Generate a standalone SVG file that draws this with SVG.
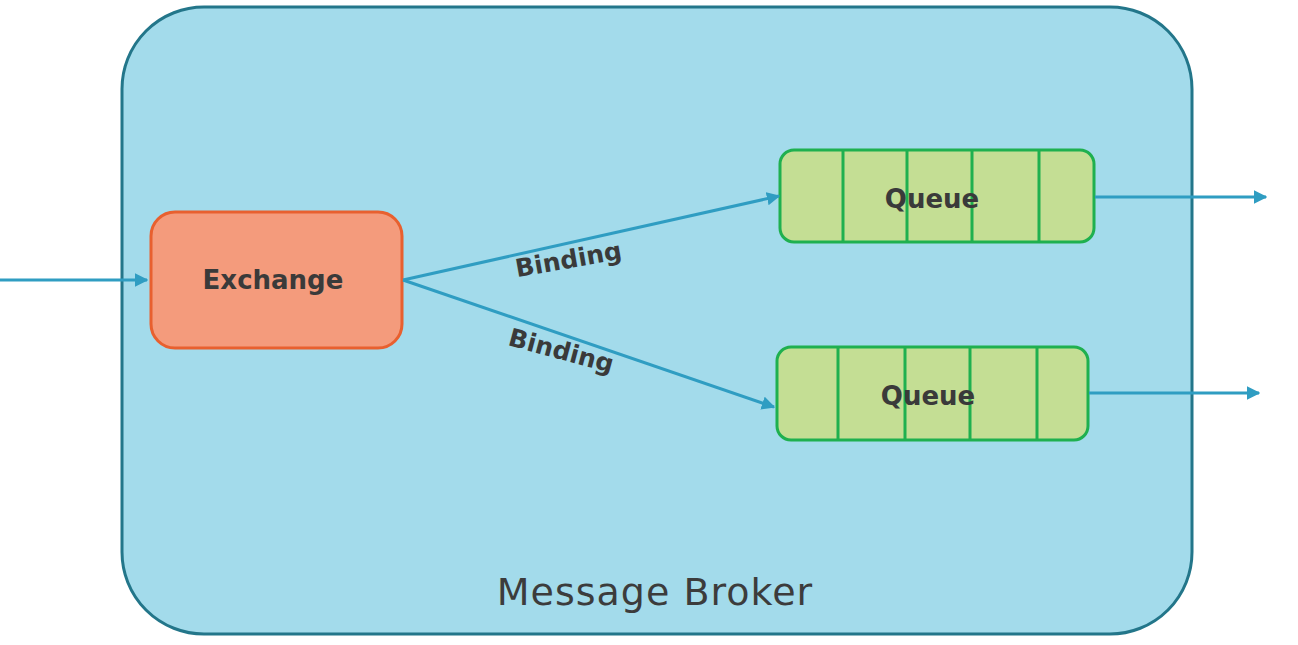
<svg xmlns="http://www.w3.org/2000/svg" width="1298" height="645" viewBox="0 0 1298 645">
  <defs>
    <marker id="arrow" viewBox="0 0 10 10" refX="9" refY="5" markerWidth="4.5" markerHeight="4.5" orient="auto" markerUnits="strokeWidth">
      <path d="M0,0 L10,5 L0,10 z" fill="#2f9dc2"/>
    </marker>
    <style>
      .label { font-family: "DejaVu Sans", "Liberation Sans", sans-serif; font-weight: 700; fill: #3a3a3a; }
      .queue { fill: #c4de94; stroke: #1fb04f; stroke-width: 3; }
      .divider { stroke: #1fb04f; stroke-width: 3; }
      .edge { stroke: #2f9dc2; stroke-width: 3; fill: none; marker-end: url(#arrow); }
    </style>
  </defs>
  <rect width="1298" height="645" fill="#ffffff"/>

  <!-- broker container -->
  <g id="broker">
    <rect x="122" y="7" width="1070" height="627" rx="82" ry="82" fill="#a3dbeb" stroke="#23768a" stroke-width="3"/>
    <text x="655" y="605" text-anchor="middle" font-family="'DejaVu Sans', sans-serif" font-size="38" letter-spacing="1" fill="#3c3c3c">Message Broker</text>
  </g>

  <g id="exchange">
    <rect x="151" y="212" width="251" height="136" rx="24" ry="24" fill="#f49b7c" stroke="#e8602f" stroke-width="3"/>
    <text class="label" x="273" y="289" text-anchor="middle" font-size="26">Exchange</text>
  </g>

  <g id="queue1">
    <rect class="queue" x="780" y="150" width="314" height="92" rx="14" ry="14"/>
    <line class="divider" x1="843" y1="150" x2="843" y2="242"/>
    <line class="divider" x1="907" y1="150" x2="907" y2="242"/>
    <line class="divider" x1="972" y1="150" x2="972" y2="242"/>
    <line class="divider" x1="1039" y1="150" x2="1039" y2="242"/>
    <text class="label" x="932" y="208" text-anchor="middle" font-size="26">Queue</text>
  </g>

  <g id="queue2">
    <rect class="queue" x="777" y="347" width="311" height="93" rx="14" ry="14"/>
    <line class="divider" x1="838" y1="347" x2="838" y2="440"/>
    <line class="divider" x1="905" y1="347" x2="905" y2="440"/>
    <line class="divider" x1="970" y1="347" x2="970" y2="440"/>
    <line class="divider" x1="1037" y1="347" x2="1037" y2="440"/>
    <text class="label" x="928" y="405" text-anchor="middle" font-size="26">Queue</text>
  </g>

  <g id="connectors">
    <line class="edge" x1="0" y1="280" x2="147" y2="280"/>
    <line class="edge" x1="403" y1="280" x2="779" y2="196"/>
    <line class="edge" x1="403" y1="280" x2="774" y2="407"/>
    <line class="edge" x1="1095" y1="197" x2="1266" y2="197"/>
    <line class="edge" x1="1089" y1="393" x2="1259" y2="393"/>
    <text class="label" font-size="25" text-anchor="middle" transform="translate(570,268) rotate(-10)">Binding</text>
    <text class="label" font-size="25" text-anchor="middle" transform="translate(559,359) rotate(15)">Binding</text>
  </g>
</svg>
